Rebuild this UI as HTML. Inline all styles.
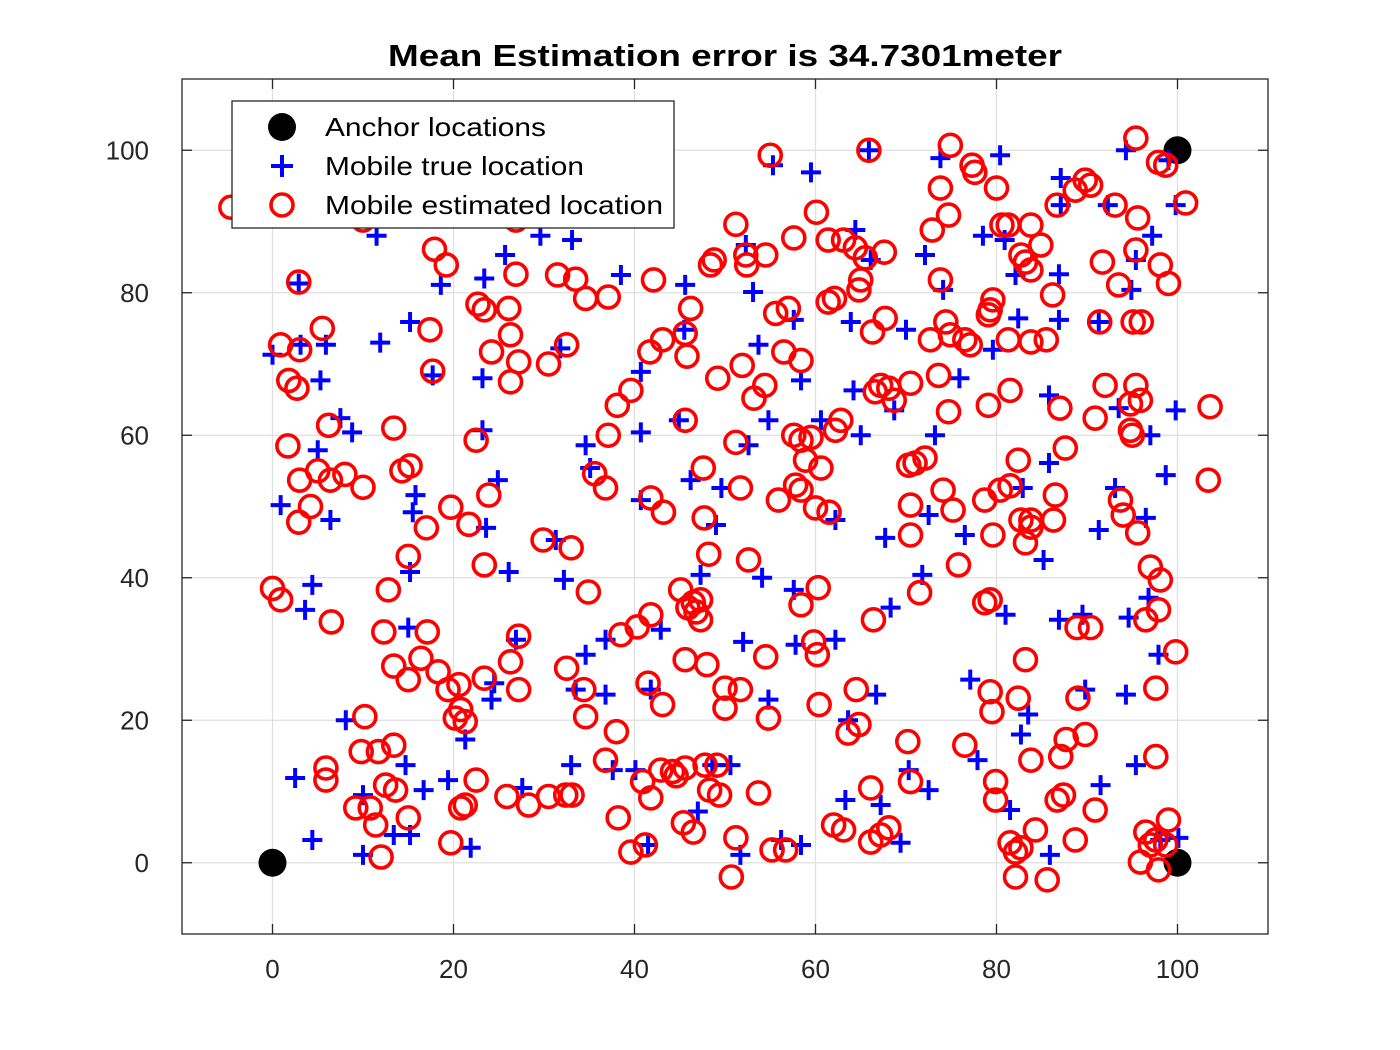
<!DOCTYPE html>
<html><head><meta charset="utf-8"><style>
html,body{margin:0;padding:0;background:#fff;}
svg{display:block;font-family:"Liberation Sans",Arial,sans-serif;}
</style></head><body>
<svg id="chart" width="1400" height="1050" viewBox="0 0 1400 1050" xmlns="http://www.w3.org/2000/svg">
<rect x="0" y="0" width="1400" height="1050" fill="#fff"/>
<text x="388" y="66" textLength="674" lengthAdjust="spacingAndGlyphs" font-size="31" font-weight="bold" fill="#000">Mean Estimation error is 34.7301meter</text>
<g id="grid"></g><g id="ticks"></g><g id="marks"></g>
<rect x="182" y="79" width="1086" height="855" fill="none" stroke="#262626" stroke-width="1.3"/>
<g>
<rect x="232" y="101" width="442" height="127" fill="#fff" stroke="#262626" stroke-width="1.3"/>
<circle cx="282" cy="127" r="14" fill="#000"/>
<text x="325" y="136" font-size="26" textLength="221" lengthAdjust="spacingAndGlyphs" fill="#000">Anchor locations</text>
<path d="M271,166h22M282,155v22" stroke="#0000ff" stroke-width="4"/>
<text x="325" y="175" font-size="26" textLength="259" lengthAdjust="spacingAndGlyphs" fill="#000">Mobile true location</text>
<circle cx="282" cy="205" r="11" fill="none" stroke="#ff0000" stroke-width="3.6"/>
<text x="325" y="214" font-size="26" textLength="338" lengthAdjust="spacingAndGlyphs" fill="#000">Mobile estimated location</text>
</g>
</svg>
<script>
const xTicks=[0,20,40,60,80,100];
const yTicks=[0,20,40,60,80,100];
const anchorsX=[0,100,100,0];
const anchorsY=[0,0,100,100];
const trueX=[0,0.9,2.9,3.1,5.9,5.3,7.5,8.8,5,6.4,4.4,3.6,4.4,2.5,8.1,10,10,11.5,11.9,15.2,15.8,15.5,15.2,15,14.7,15.2,13.4,16.7,18.6,17.7,19.4,21.3,21.9,23.4,23.2,23.2,23.6,24.9,24.2,24.5,26.1,26.9,25.7,27.6,29.6,31.3,32.2,31.8,33.1,33,33.5,34.6,35.1,36.8,37.6,38.5,34.6,36.8,40.7,40.7,40.7,41.5,41.8,42.9,40.1,44.9,45.6,45.5,46.2,47.3,47,49.6,49,48.6,50.6,51.7,52.6,52.3,53.1,53.7,54.8,54.1,52,54.8,55.3,59.5,57.6,58.4,57.6,57.8,58.4,56.2,60.6,62.2,62.2,63.6,63.3,64.2,65,63.9,64.4,65.9,66.1,66.7,67.2,67.7,68.3,68.7,69.4,70,70.3,71.8,72.1,72.5,72.5,73.8,73.2,74.1,76.5,77.1,77.9,78.5,75.9,79.6,80.4,81,81.5,80.9,82.1,82.4,82.7,83.5,82.9,85.2,85.8,87.1,87.1,86.9,86.9,85.8,86.9,85.9,89.5,89.8,91.5,92.3,93.5,93.1,91.3,94.3,94.9,94.6,94.3,95.4,96.5,97,96.8,97.2,99,98.1,100.1,99.8,98.7,97.9,99.8,95.4,91.3];
const trueY=[71.3,50.2,81.3,72.7,72.7,67.7,62.4,60.4,57.9,48.1,39,35.5,3.2,11.9,20,1.1,9.5,88,73,75.9,51.6,49.2,40.8,33,13.7,3.9,3.9,10.2,81.1,68.4,11.6,17.3,2.1,82,68,60.7,47,53.7,22.9,25.2,40.8,31.3,85.3,10.5,88,45.3,39.7,72.2,87.4,13.7,24.3,58.6,55.4,23.6,13,82.5,29.2,31.3,60.4,50.9,68.9,2.5,24.3,32.7,13,62.1,81.1,74.8,53.7,40.4,7.2,52.6,47.4,13.7,13.7,1.1,58.6,86.7,80.1,72.7,62.1,40,31,22.9,97.9,96.9,76.2,67.7,38.3,30.6,2.5,3.2,62.1,31.3,48.1,20,8.8,66.3,60,75.9,88.8,100,84.6,23.6,8.1,45.6,35.8,63.5,2.8,74.8,13,40.4,85.3,10.2,48.8,98.9,60,80.4,46,25.7,14.4,88,68,72,99.3,34.8,7.4,87.4,82.5,76.4,18,20.8,52.6,42.5,56.1,92.3,96.1,82.6,76.2,65.6,34.1,1.1,34.8,24.3,10.9,92.3,63.8,52.6,46.7,100,80.4,34.4,23.6,13.7,48.4,60,37.2,88,98.6,3.2,3.5,63.5,54.4,29.2,92.3,84.6,75.9];
const estX=[-4.6,2.9,0.9,3,5.5,1.8,2.7,1.7,6.2,3,5,4.2,2.9,6.4,8,10,0,0.9,6.5,13.4,14.3,15.2,15,17,12.8,17.1,12.3,13.4,15,16.4,18.3,19.4,20.8,20.2,21.3,20.6,23.4,10.2,9.8,11.7,13.4,5.9,5.9,9.2,10.8,12.5,13.6,11.4,12,15,19.7,21.3,20.8,22.5,25.9,28.3,30.5,32.4,33.1,27.2,26.3,27.2,23.4,23.9,22.5,19.7,21.7,17.7,17.4,17.9,19.2,10,22.7,23.4,26.1,26.9,26.9,24.2,26.3,26.3,27.2,30.5,32.5,31.5,33.5,34.6,37.1,29.9,33,34.9,32.5,34.4,34.6,36.8,38,38.2,39.6,41.2,40.9,41.8,38.5,40.3,41.8,41.5,43.1,42.9,44.2,45.6,44.6,45.1,46.5,47.3,46.8,47.3,45.9,45.6,48,47.8,49.1,48.3,49.4,45.4,46.5,50,50,51.7,51.2,50.7,53.7,52.6,51.7,51.2,49.2,51.9,53.2,54.4,41.8,43.2,47.6,47.7,48.2,36.8,38.1,39.6,37.1,35.6,41.7,43.1,45.8,45.6,46.2,45.6,42.1,48.4,48.8,51.2,52.3,52.4,54.5,55,57.6,60.1,55.6,57,56.5,58.4,57.6,58.4,59.5,58.9,60.6,57.8,58.4,55.9,60,61.5,58.4,60.3,59.8,60.2,60.4,54.8,54.5,55.2,56.7,62,63.1,63.6,64.8,64.5,66.1,66.1,67.2,68.1,70.2,70.5,61.4,63.1,64.4,65.5,65.9,65,64.8,62.1,61.4,67.6,66.3,67.7,62.8,62.2,67.2,66.6,68.1,68.7,70.5,66.4,70.5,70.5,70.3,71,72.1,71.5,74.9,73.8,74.7,72.9,73.8,77.3,77.6,80,80.6,72.7,74.4,74.9,76.5,77.1,79.1,79.6,79.3,81.5,79.1,73.6,74.7,74.1,75.2,75.8,76.5,78.7,79.3,79.6,78.7,80.4,81.5,82.4,82.7,83.8,83.2,83.8,79.3,79.5,79.9,79.9,81.5,82.1,82.7,82.1,83.2,82.4,84.3,85.6,86.7,87.4,88.7,87.1,87.7,83.8,81.3,83.8,82.7,83.2,83.8,84.9,81.3,83.8,85.5,86.2,86.7,88.7,89.8,90.4,87,87.6,86.5,86.3,88.9,90.4,89,89.8,90.9,91.7,93.5,91.4,92,90.9,93.7,94,95.1,96,94.8,95,95.9,95.4,94.8,95.6,97,98.1,96.5,97.9,97.6,97.6,95.4,97.9,98.7,95.6,93.1,95.4,98.1,99,100.9,103.6,103.4,99.8,95.9,97,97.6,97.9,98.7,99,96.5];
const estY=[92,81.5,72.7,72,75,67.7,66.6,58.5,61.4,53.7,55,50,47.8,53.7,54.5,52.7,38.5,36.9,33.8,61,55,55.7,43,47,38.3,32.4,32.4,27.6,25.7,28.7,26.8,24.3,21.5,20.3,19.8,25,25.9,20.5,15.6,15.6,16.5,13.3,11.6,7.7,7.7,10.9,10.2,5.3,0.8,6.3,2.8,8.1,7.7,11.6,9.3,8.1,9.3,9.5,9.5,31.8,28.2,24.3,41.8,51.6,59.3,49.9,47.5,69,74.8,86.1,83.9,90.2,78.4,77.6,77.8,82.6,90.2,71.7,74.1,67.5,70.3,70,72.7,82.5,81.9,79.2,79.4,45.3,44.2,38,27.3,24.3,20.5,14.4,18.4,6.3,1.5,2.5,11.4,9.1,32,33.1,34.8,25.2,22.2,13,12.8,13.3,12.2,38.3,36.5,36.9,35.2,34.1,35.8,28.5,27.8,13.7,13.7,10.2,9.5,5.6,4.3,21.7,24.5,24.3,3.5,-2,9.8,42.5,52.6,59,68,69.8,65.2,67,51.2,49.2,55.4,48.4,43.3,52.6,64.2,66.3,60,54.6,71.7,73.4,71.1,74.3,77.8,62.1,81.8,83.9,84.6,89.6,85.3,83.9,85.3,99.3,87.7,91.3,77.1,77.8,71.7,70.5,60,59.3,59.7,56.5,55.4,53,52.3,50.9,49.8,49.2,36.2,38.6,31,29.2,22.2,20.3,28.9,1.8,1.8,5.3,4.6,18.2,19.4,24.3,10.5,2.9,3.9,4.9,17,11.4,87.4,87.4,86.3,84.9,100,81.8,80.4,79.2,78.7,85.7,74.5,76.4,62.1,60.7,67,66.1,66.6,64.9,67.3,34.1,46,50.2,55.8,56.1,56.8,37.9,100.7,94.7,90.9,88.8,81.8,97.9,96.9,94.7,89.5,73.4,75.9,74.1,73.4,72.7,76.9,79,77.6,66.3,64.2,68.4,63.3,52.3,49.5,41.8,16.5,36.5,36.9,46,50.9,52.3,52.9,56.5,48.1,48.1,44.9,47.1,24,21.2,11.4,8.8,2.8,1.5,2.1,-2,28.5,23.1,4.6,-2.4,8.8,9.5,3.2,14.9,17.3,14.4,89.5,89.5,85.3,84.3,83.2,86.7,73.4,73.1,73.4,79.7,92.3,94.4,95.8,95.1,63.8,58.2,51.6,48.1,33,33,23.1,18,7.4,84.3,81.1,75.9,67,62.4,50.9,48.8,75.9,75.9,60.7,60,64.9,67,64.4,46.3,41.5,39.7,34.1,35.5,24.5,14.9,101.7,98.3,97.9,90.5,92.3,86,83.9,81.3,92.6,64,53.7,29.6,0.1,2.5,3.2,-1,2.5,6,4.3];

const NS='http://www.w3.org/2000/svg';
const X0=182,X1=1268,Y0=934,Y1=79,XMIN=-10,XMAX=110,YMIN=-10,YMAX=110;
function sx(v){return X0+(v-XMIN)/(XMAX-XMIN)*(X1-X0);}
function sy(v){return Y0-(v-YMIN)/(YMAX-YMIN)*(Y0-Y1);}
function mk(tag,attrs,parent){const e=document.createElementNS(NS,tag);for(const k in attrs)e.setAttribute(k,attrs[k]);parent.appendChild(e);return e;}
const grid=document.getElementById('grid'),ticks=document.getElementById('ticks'),marks=document.getElementById('marks');
xTicks.forEach(t=>{
  const g=mk('line',{x1:sx(t),x2:sx(t),y1:Y1,y2:Y0,stroke:'#dfdfdf','stroke-width':1.2},grid);
  
  
  mk('line',{x1:sx(t),x2:sx(t),y1:Y0,y2:Y0-10,stroke:'#262626','stroke-width':1.3},ticks);
  mk('line',{x1:sx(t),x2:sx(t),y1:Y1,y2:Y1+10,stroke:'#262626','stroke-width':1.3},ticks);
  const l=mk('text',{x:sx(t),y:Y0+44,'text-anchor':'middle','font-size':26,fill:'#262626'},ticks);
  l.textContent=t;
  
  
});
yTicks.forEach(t=>{
  const g=mk('line',{x1:X0,x2:X1,y1:sy(t),y2:sy(t),stroke:'#dfdfdf','stroke-width':1.2},grid);
  
  
  mk('line',{x1:X0,x2:X0+10,y1:sy(t),y2:sy(t),stroke:'#262626','stroke-width':1.3},ticks);
  mk('line',{x1:X1,x2:X1-10,y1:sy(t),y2:sy(t),stroke:'#262626','stroke-width':1.3},ticks);
  const l=mk('text',{x:X0-33,y:sy(t)+9,'text-anchor':'end','font-size':26,fill:'#262626'},ticks);
  l.textContent=t;
  
  
});
anchorsX.forEach((v,i)=>{
  const c=mk('circle',{cx:sx(v),cy:sy(anchorsY[i]),r:14,fill:'#000'},marks);
  
  
});
trueX.forEach((v,i)=>{
  const x=sx(v),y=sy(trueY[i]);
  const p=mk('path',{d:`M${x-10},${y}h20M${x},${y-10}v20`,stroke:'#0000ff','stroke-width':4},marks);
  
  
});
estX.forEach((v,i)=>{
  const c=mk('circle',{cx:sx(v),cy:sy(estY[i]),r:11,fill:'none',stroke:'#ff0000','stroke-width':3.6},marks);
  
  
});
</script>
</body></html>
